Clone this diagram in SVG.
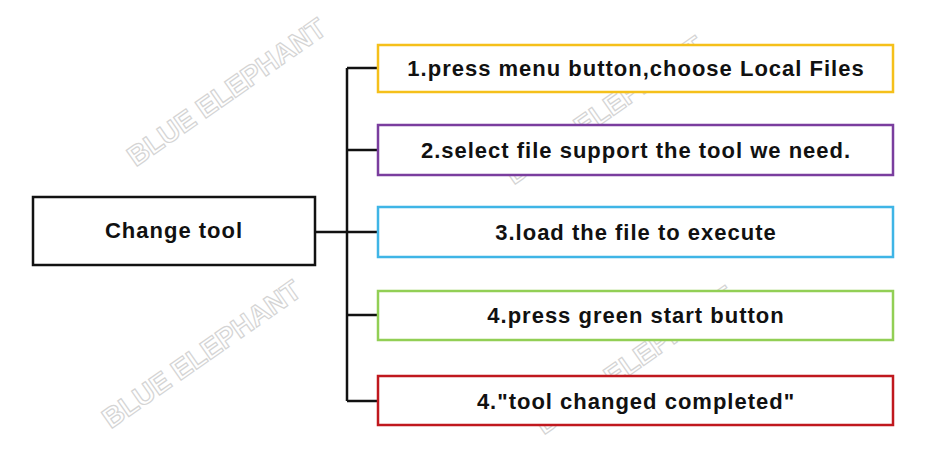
<svg xmlns="http://www.w3.org/2000/svg" width="939" height="471" viewBox="0 0 939 471">
<style>
.box{fill:#fff;stroke-width:2.5}
.t{font-family:"Liberation Sans",Arial,sans-serif;font-weight:bold;font-size:22px;letter-spacing:1px;fill:#111;text-anchor:middle;dominant-baseline:central}
.wm{font-family:"Liberation Sans",Arial,sans-serif;font-weight:bold;font-size:28px;fill:#fff;stroke:#d0d0d0;stroke-width:1.2;text-anchor:middle;opacity:0.9}
.c{stroke:#111;stroke-width:2.5;fill:none}
</style>
<rect width="939" height="471" fill="#fff"/>
<g id="watermarks">
<text class="wm" transform="translate(232,100) rotate(-35)">BLUE ELEPHANT</text>
<text class="wm" transform="translate(610,118) rotate(-35)">BLUE ELEPHANT</text>
<text class="wm" transform="translate(207,362) rotate(-35)">BLUE ELEPHANT</text>
<text class="wm" transform="translate(640,368) rotate(-35)">BLUE ELEPHANT</text>
</g>
<g id="connectors">
<path class="c" d="M315 232H347M347 68V401M347 68H378M347 150H378M347 232H378M347 315H378M347 401H378"/>
</g>
<g id="root"><rect class="box" x="33" y="197" width="282" height="68" stroke="#111"/><text class="t" x="174" y="230">Change tool</text></g>
<g id="n1"><rect class="box" x="378" y="45" width="515" height="47" stroke="#f5c01a"/><text class="t" x="636" y="68">1.press menu button,choose Local Files</text></g>
<g id="n2"><rect class="box" x="378" y="125" width="515" height="50" stroke="#7a3d9e"/><text class="t" x="636" y="150">2.select file support the tool we need.</text></g>
<g id="n3"><rect class="box" x="378" y="207" width="515" height="50" stroke="#3fb5e6"/><text class="t" x="636" y="232">3.load the file to execute</text></g>
<g id="n4"><rect class="box" x="378" y="291" width="515" height="49" stroke="#92cf55"/><text class="t" x="636" y="315">4.press green start button</text></g>
<g id="n5"><rect class="box" x="378" y="376" width="515" height="49" stroke="#c0181e"/><text class="t" x="636" y="401">4."tool changed completed"</text></g>
</svg>
